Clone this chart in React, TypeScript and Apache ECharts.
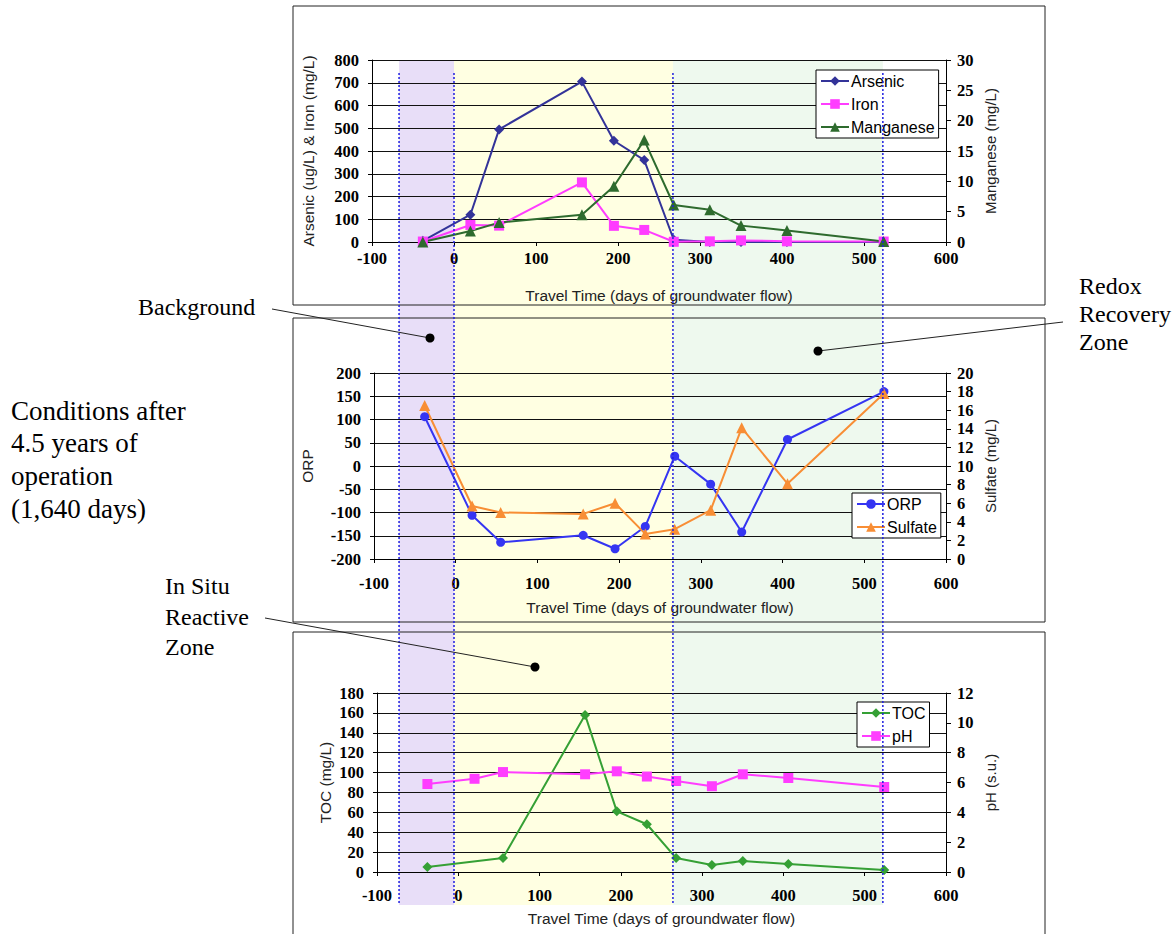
import React, { useEffect, useRef } from "react";
import * as echarts from "echarts";

// Travel time (days of groundwater flow) of each monitoring well
const travelDays = [-38, 20, 55, 156, 195, 232, 268, 312, 350, 406, 524];

// Top panel
const arsenic = [5, 120, 495, 705, 445, 360, 10, 0, 0, 0, 0];
const iron = [2, 75, 72, 262, 71, 53, 1, 3, 7, 3, 2];
const manganese = [0, 1.8, 3.2, 4.5, 9.2, 16.8, 6.1, 5.3, 2.7, 1.9, 0.1];

// Middle panel
const orp = [106, -106, -164, -149, -178, -130, 21, -39, -142, 57, 160];
const sulfate = [16.5, 5.7, 5.0, 4.85, 6.0, 2.7, 3.2, 5.25, 14.1, 8.1, 17.8];

// Bottom panel
const toc = [5, null, 14, 158, 61, 48, 14, 7, 11, 8, 2];
const ph = [5.9, 6.25, 6.7, 6.55, 6.75, 6.4, 6.1, 5.75, 6.55, 6.3, 5.7];

// Zone boundaries (days): background start, reactive zone start, redox recovery start, last well
const zoneBounds = [-67, 0, 267, 523];

const pairs = (ys: (number | null)[]) =>
  travelDays
    .map((d, i) => (ys[i] == null ? null : [d, ys[i]]))
    .filter((p) => p !== null);

const labelFont = {
  fontFamily: "Liberation Serif",
  fontWeight: "bold" as const,
  fontSize: 16.5,
  color: "#000",
};
const nameFont = {
  fontFamily: "Liberation Sans",
  fontSize: 15.5,
  color: "#222",
};
const rightNameFont = {
  fontFamily: "Liberation Sans",
  fontSize: 15,
  color: "#222",
};
const axisLine = { show: true, lineStyle: { color: "#000", width: 1 } };
const split = { show: true, lineStyle: { color: "#111", width: 1 } };

function xAxis(gridIndex: number, margin: number, gap: number) {
  return {
    type: "value",
    gridIndex,
    min: -100,
    max: 600,
    interval: 100,
    axisLine: { ...axisLine, onZero: false },
    axisTick: { show: true, length: 4, lineStyle: { color: "#000" } },
    axisLabel: { ...labelFont, margin },
    splitLine: { show: false },
    name: "Travel Time (days of groundwater flow)",
    nameLocation: "middle",
    nameGap: gap,
    nameTextStyle: nameFont,
  };
}

function yAxis(
  gridIndex: number,
  position: "left" | "right",
  min: number,
  max: number,
  interval: number,
  name: string,
  gap: number
) {
  const left = position === "left";
  return {
    type: "value",
    gridIndex,
    position,
    min,
    max,
    interval,
    axisLine: { ...axisLine, onZero: false },
    axisTick: { show: true, length: left ? 4 : 5, lineStyle: { color: "#000" } },
    axisLabel: { ...labelFont, margin: left ? 13 : 11 },
    splitLine: left ? split : { show: false },
    name,
    nameLocation: "middle",
    nameRotate: 90,
    nameGap: gap,
    nameTextStyle: left ? nameFont : rightNameFont,
  };
}

function lineSeries(
  name: string,
  data: any[],
  xi: number,
  yi: number,
  color: string,
  symbol: string,
  symbolSize: number
) {
  return {
    name,
    type: "line",
    xAxisIndex: xi,
    yAxisIndex: yi,
    data,
    symbol,
    symbolSize,
    lineStyle: { color, width: 2 },
    itemStyle: { color },
    emphasis: { disabled: true },
  };
}

function legend(data: string[], left: number, top: number) {
  return {
    data,
    orient: "vertical",
    left,
    top,
    backgroundColor: "#fff",
    borderColor: "#000",
    borderWidth: 1,
    borderRadius: 0,
    padding: [3, 4, 3, 4],
    itemGap: 7,
    itemWidth: 28,
    itemHeight: 12,
    textStyle: { fontFamily: "Liberation Sans", fontSize: 16, color: "#000", padding: [0, 0, 0, -3] },
    z: 20,
  };
}

export default function App() {
  const ref = useRef<HTMLDivElement>(null);

  useEffect(() => {
    document.body.style.margin = "0";
    const chart = echarts.init(ref.current!, undefined, { renderer: "svg" });
    chart.setOption({
      animation: false,
      backgroundColor: "#fff",
      grid: [
        { left: 372, top: 60, width: 574, height: 182 },
        { left: 374, top: 373, width: 572, height: 186 },
        { left: 377, top: 693, width: 569, height: 179 },
      ],
      xAxis: [xAxis(0, 8, 45), xAxis(1, 16, 40), xAxis(2, 15, 38)],
      yAxis: [
        yAxis(0, "left", 0, 800, 100, "Arsenic (ug/L) & Iron (mg/L)", 56),
        yAxis(0, "right", 0, 30, 5, "Manganese (mg/L)", 37),
        yAxis(1, "left", -200, 200, 50, "ORP", 59),
        yAxis(1, "right", 0, 20, 2, "Sulfate (mg/L)", 37),
        yAxis(2, "left", 0, 180, 20, "TOC (mg/L)", 44),
        yAxis(2, "right", 0, 12, 2, "pH (s.u.)", 37),
      ],
      legend: [
        legend(["Arsenic", "Iron", "Manganese"], 816, 70),
        legend(["ORP", "Sulfate"], 852, 493),
        legend(["TOC", "pH"], 857, 702),
      ],
      series: [
        lineSeries("Arsenic", pairs(arsenic), 0, 0, "#333399", "diamond", 10),
        lineSeries("Iron", pairs(iron), 0, 0, "#FF3DFF", "rect", 10),
        lineSeries("Manganese", pairs(manganese), 0, 1, "#2E6B2E", "triangle", 11),
        lineSeries("ORP", pairs(orp), 1, 2, "#3535F2", "circle", 9),
        lineSeries("Sulfate", pairs(sulfate), 1, 3, "#F88E35", "triangle", 11),
        lineSeries("TOC", pairs(toc), 2, 4, "#35A035", "diamond", 10),
        lineSeries("pH", pairs(ph), 2, 5, "#FF3DFF", "rect", 10),
      ],
    });

    const xs = zoneBounds.map((d) => chart.convertToPixel({ xAxisIndex: 0 }, d) as number);
    const bandTop = chart.convertToPixel({ yAxisIndex: 0 }, 800) as number;
    const bandBottom = 905;
    const bandColors = ["#E8DEF8", "#FFFFE2", "#EEF9EE"];
    const serif = "Liberation Serif";

    const graphic: any[] = [];
    for (let i = 0; i < 3; i++) {
      graphic.push({
        type: "rect",
        z: -1,
        silent: true,
        shape: { x: xs[i], y: bandTop, width: xs[i + 1] - xs[i], height: bandBottom - bandTop },
        style: { fill: bandColors[i] },
      });
    }
    xs.forEach((x) => {
      graphic.push({
        type: "line",
        z: 100,
        silent: true,
        shape: { x1: x, y1: 73, x2: x, y2: bandBottom },
        style: { stroke: "#1F1FE0", lineWidth: 1.5, lineDash: [2, 2] },
      });
    });
    // panel frames
    [
      [293, 6, 752, 299],
      [293, 318, 752, 304],
      [293, 632, 752, 320],
    ].forEach(([x, y, w, h]) => {
      graphic.push({
        type: "rect",
        z: 50,
        silent: true,
        shape: { x, y, width: w, height: h },
        style: { fill: "none", stroke: "#222", lineWidth: 1 },
      });
    });
    const txt = (text: string, x: number, y: number, size: number) => ({
      type: "text",
      z: 100,
      x,
      y,
      style: { text, fill: "#000", font: `${size}px "${serif}"`, textVerticalAlign: "middle", textAlign: "left" },
    });
    const pointer = (x1: number, y1: number, x2: number, y2: number) => [
      { type: "line", z: 100, shape: { x1, y1, x2, y2 }, style: { stroke: "#222", lineWidth: 1 } },
      { type: "circle", z: 100, shape: { cx: x2, cy: y2, r: 4.5 }, style: { fill: "#000" } },
    ];
    graphic.push(txt("Background", 138, 307, 24));
    graphic.push(...pointer(272, 309, 430, 338));
    graphic.push(txt("Redox", 1079, 286, 24));
    graphic.push(txt("Recovery", 1079, 314, 24));
    graphic.push(txt("Zone", 1079, 342, 24));
    graphic.push(...pointer(1063, 322, 818, 351));
    graphic.push(txt("In Situ", 165, 586, 24));
    graphic.push(txt("Reactive", 165, 617, 24));
    graphic.push(txt("Zone", 165, 647, 24));
    graphic.push(...pointer(265, 618, 535, 667));
    graphic.push(txt("Conditions after", 11, 411, 27));
    graphic.push(txt("4.5 years of", 11, 443, 27));
    graphic.push(txt("operation", 11, 476, 27));
    graphic.push(txt("(1,640 days)", 11, 509, 27));

    chart.setOption({ graphic });

    return () => chart.dispose();
  }, []);

  return (
    <div
      ref={ref}
      style={{ position: "absolute", left: 0, top: 0, width: 1176, height: 934 }}
    />
  );
}
